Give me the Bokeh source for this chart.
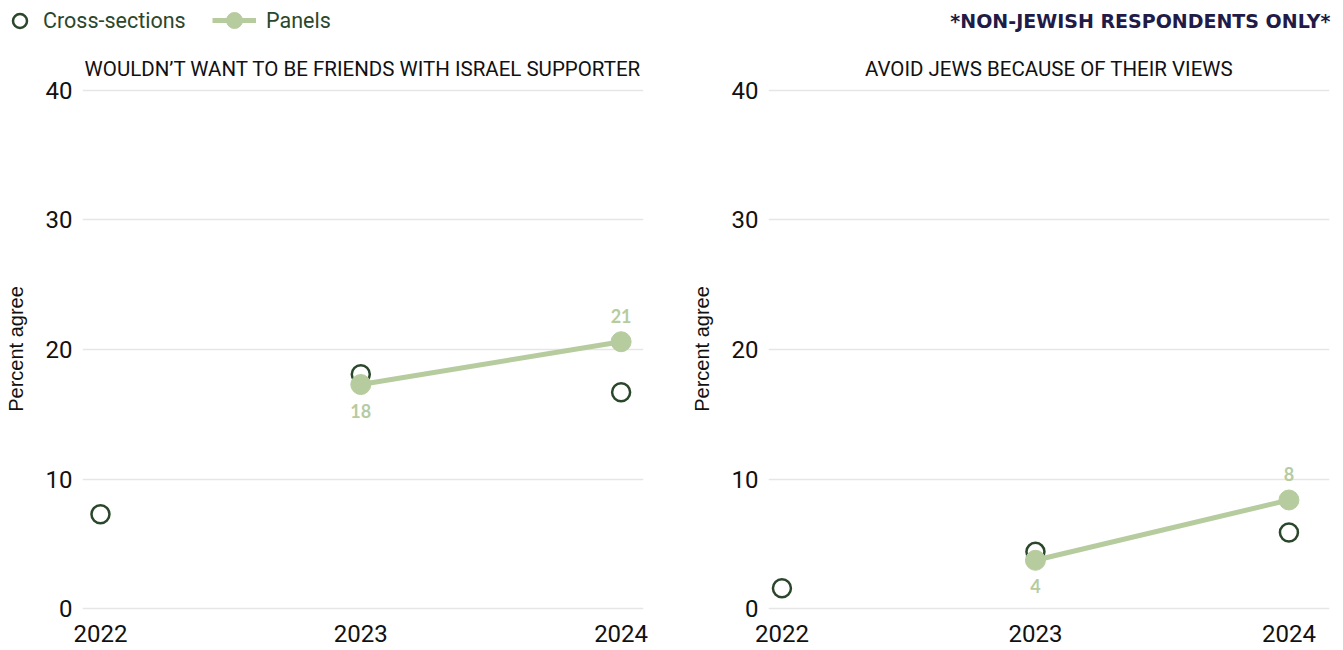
from bokeh.plotting import figure
from bokeh.layouts import row, column
from bokeh.models import (Range1d, FixedTicker, Label, Legend, LegendItem,
                          ColumnDataSource, LabelSet)
from bokeh.core.properties import value
from bokeh.embed import file_html
from bokeh.resources import INLINE

# ---------------- data ----------------
years = [2022, 2023, 2024]
panel_years = [2023, 2024]

friends_cross = [7.3, 18.1, 16.7]
friends_panel = [17.3, 20.6]
friends_panel_labels = ["18", "21"]

avoid_cross = [1.6, 4.4, 5.9]
avoid_panel = [3.75, 8.4]
avoid_panel_labels = ["4", "8"]

titles = ["WOULDN\u2019T WANT TO BE FRIENDS WITH ISRAEL SUPPORTER",
          "AVOID JEWS BECAUSE OF THEIR VIEWS"]
y_ticks = [0, 10, 20, 30, 40]
y_label = "Percent agree"
legend_labels = ["Cross-sections", "Panels"]
note_text = "*NON-JEWISH RESPONDENTS ONLY*"

# ---------------- styles ----------------
DARK = "#2b472b"
LIGHT = "#b6cc9f"
NAVY = "#221b47"
GRID = "#e6e6e6"
TICK_FONT = "Roboto"
HEADER_H = 44
BORDER_TOP = 43
FRAME_H = 523
BORDER_BOTTOM = 42
PANEL_H = BORDER_TOP + FRAME_H + BORDER_BOTTOM
LEFT_W = 82 + 561 + 43
RIGHT_W = 82 + 561 + 6
TOTAL_W = LEFT_W + RIGHT_W

CROSS_STYLE = dict(size=18, marker="circle", fill_color="white",
                   line_color=DARK, line_width=2.5)
LINE_STYLE = dict(line_color=LIGHT, line_width=5)
DOT_STYLE = dict(size=20, marker="circle", fill_color=LIGHT, line_color=LIGHT)


def make_panel(title, cross, panel, panel_labels, x_range, border_right):
    p = figure(frame_width=561, frame_height=FRAME_H, height=PANEL_H,
               min_border_left=82, min_border_right=border_right,
               min_border_top=BORDER_TOP, min_border_bottom=BORDER_BOTTOM,
               x_range=Range1d(*x_range), y_range=Range1d(-0.12, 40.2),
               output_backend="svg", toolbar_location=None,
               background_fill_color="white", border_fill_color="white",
               outline_line_color=None)
    p.title.text = title
    p.title.align = "center"
    p.title.text_font = "Roboto"
    p.title.text_font_size = "20.5px"
    p.title.text_font_style = "normal"
    p.title.text_color = "#111111"
    p.title.standoff = 14

    for ax in (p.xaxis, p.yaxis):
        ax.axis_line_color = None
        ax.major_tick_line_color = None
        ax.minor_tick_line_color = None
        ax.major_tick_out = 0
        ax.major_tick_in = 0
        ax.minor_tick_out = 0
        ax.minor_tick_in = 0
        ax.major_label_text_font = TICK_FONT
        ax.major_label_text_font_size = "24px"
        ax.major_label_text_color = "#111111"
    p.xaxis.ticker = FixedTicker(ticks=years)
    p.xaxis.major_label_standoff = 14
    p.yaxis.ticker = FixedTicker(ticks=y_ticks)
    p.yaxis.major_label_standoff = 10
    p.yaxis.axis_label = y_label
    p.yaxis.axis_label_text_font = "Liberation Sans"
    p.yaxis.axis_label_text_font_size = "20px"
    p.yaxis.axis_label_text_font_style = "normal"
    p.yaxis.axis_label_text_color = "#111111"
    p.yaxis.axis_label_standoff = 16

    p.xgrid.grid_line_color = None
    p.ygrid.grid_line_color = GRID
    p.ygrid.grid_line_width = 1.5

    p.scatter(years, cross, **CROSS_STYLE)
    p.line(panel_years, panel, **LINE_STYLE)
    p.scatter(panel_years, panel, **DOT_STYLE)

    src = ColumnDataSource(dict(x=panel_years, y=panel, t=panel_labels,
                                off=[-26, 26]))
    p.add_layout(LabelSet(x="x", y="y", text="t", y_offset="off", source=src,
                          text_align="center", text_baseline="middle",
                          text_font=value("Lato"), text_font_size=value("18px"),
                          text_font_style=value("bold"), text_color=LIGHT))
    return p


left = make_panel(titles[0], friends_cross, friends_panel,
                  friends_panel_labels, (2021.931, 2024.086), 43)
right = make_panel(titles[1], avoid_cross, avoid_panel,
                   avoid_panel_labels, (2021.947, 2024.16), 6)

# ---------------- header: legend + note ----------------
header = figure(width=TOTAL_W, height=HEADER_H,
                x_range=Range1d(0, TOTAL_W), y_range=Range1d(0, HEADER_H),
                min_border=0, output_backend="svg", toolbar_location=None,
                outline_line_color=None, background_fill_color="white",
                border_fill_color="white")
header.axis.visible = False
header.grid.visible = False
nan = float("nan")
hc = header.scatter([nan], [nan], **CROSS_STYLE)
hl = header.line([nan, nan], [nan, nan], **LINE_STYLE)
hd = header.scatter([nan], [nan], **DOT_STYLE)

common = dict(orientation="horizontal", padding=0, margin=0,
              border_line_color=None, background_fill_alpha=0,
              label_text_font="Roboto", label_text_font_size="21.5px",
              label_text_color=DARK, label_text_baseline="middle")
leg1 = Legend(items=[LegendItem(label=legend_labels[0], renderers=[hc])],
              location=(2, 6.5), glyph_width=35, glyph_height=35,
              label_standoff=6, **common)
leg2 = Legend(items=[LegendItem(label=legend_labels[1], renderers=[hl, hd])],
              location=(212, 4), glyph_width=44, glyph_height=40,
              label_standoff=10, **common)
header.add_layout(leg1, "center")
header.add_layout(leg2, "center")

header.add_layout(Label(x=1330, y=24, text=note_text, text_align="right",
                        text_baseline="middle", text_font="DejaVu Sans",
                        text_font_size="19px", text_font_style="bold",
                        text_color=NAVY))

layout = column(header, row(left, right))
open("out.html", "w").write(file_html(layout, INLINE))
